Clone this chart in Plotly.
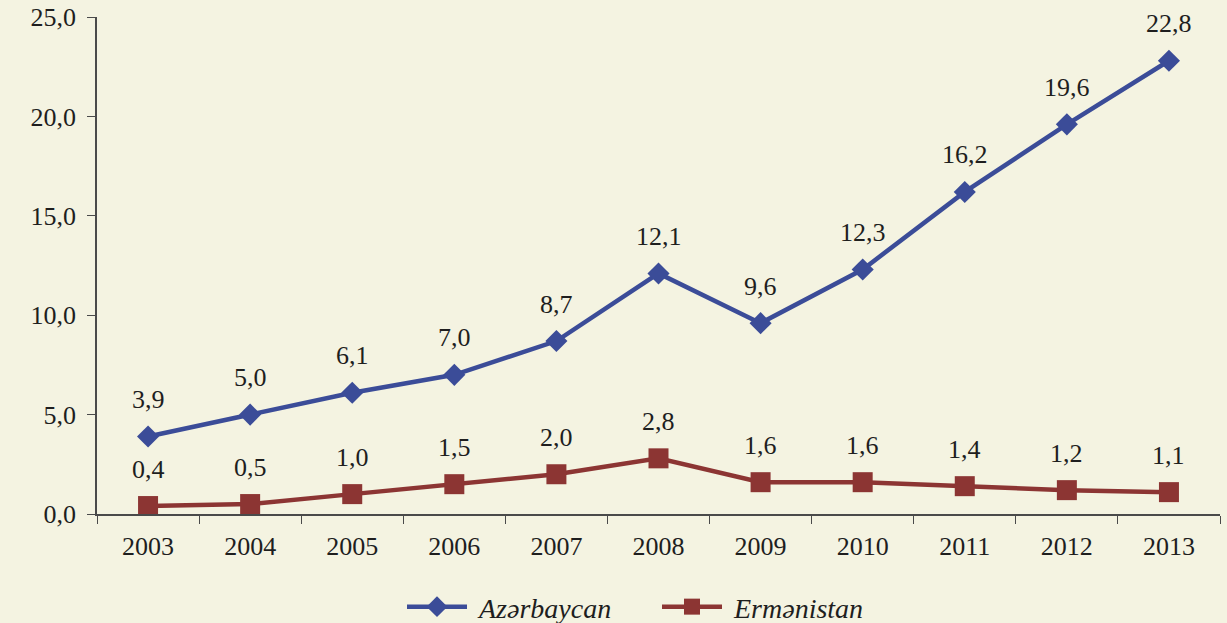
import plotly.graph_objects as go

years = ["2003", "2004", "2005", "2006", "2007", "2008", "2009", "2010", "2011", "2012", "2013"]
azerbaijan = [3.9, 5.0, 6.1, 7.0, 8.7, 12.1, 9.6, 12.3, 16.2, 19.6, 22.8]
armenia = [0.4, 0.5, 1.0, 1.5, 2.0, 2.8, 1.6, 1.6, 1.4, 1.2, 1.1]
series_names = ["Azərbaycan", "Ermənistan"]
y_ticks = [0, 5, 10, 15, 20, 25]
y_tick_labels = ["0,0", "5,0", "10,0", "15,0", "20,0", "25,0"]

BLUE = "#3b4c98"
RED = "#8c3533"
BG = "#f4f3e1"
FONT = "Liberation Serif"
TEXT = "#1e1e1e"
AXIS = "#4a4a4a"

def fmt(v):
    return f"{v:.1f}".replace(".", ",")

fig = go.Figure()
fig.add_trace(go.Scatter(
    x=years, y=azerbaijan, name="\u00a0" + series_names[0], mode="lines+markers",
    line=dict(color=BLUE, width=4.5),
    marker=dict(symbol="diamond", size=17, color=BLUE),
))
fig.add_trace(go.Scatter(
    x=years, y=armenia, name="\u00a0" + series_names[1], mode="lines+markers",
    line=dict(color=RED, width=4.5),
    marker=dict(symbol="square", size=20, color=RED),
))

for series in (azerbaijan, armenia):
    for i, v in enumerate(series):
        fig.add_annotation(x=i, y=v, xref="x", yref="y", text=fmt(v), showarrow=False,
                           yshift=37, font=dict(family=FONT, size=26, color=TEXT))

fig.update_layout(
    width=1227, height=623,
    margin=dict(l=97, r=7, t=17, b=109, autoexpand=False),
    paper_bgcolor=BG,
    plot_bgcolor=BG,
    showlegend=True,
    legend=dict(orientation="h", x=0.2716, xanchor="left", y=-0.187, yanchor="middle",
                font=dict(family=FONT, size=28, color=TEXT, style="italic"),
                bgcolor="rgba(0,0,0,0)", itemwidth=60,
                entrywidthmode="pixels", entrywidth=180),
    font=dict(family=FONT, size=26, color=TEXT),
)
fig.update_xaxes(
    type="category", showgrid=False, showline=True, linecolor=AXIS, linewidth=1.5,
    ticks="outside", tickson="boundaries", ticklen=8, tickcolor=AXIS,
    tickfont=dict(family=FONT, size=26, color=TEXT), range=[-0.5, 10.5],
    ticklabelstandoff=8,
)
fig.update_yaxes(
    range=[0, 25], tickvals=y_ticks, ticktext=y_tick_labels, showgrid=False,
    showline=True, linecolor=AXIS, linewidth=1.5, ticks="outside", ticklen=8,
    tickcolor=AXIS, zeroline=False, ticklabelstandoff=6,
    tickfont=dict(family=FONT, size=26, color=TEXT),
)

fig.write_html(
    "out.html",
    config={"displayModeBar": False},
    post_script="document.body.style.margin='0';document.body.style.background='" + BG + "';",
)
